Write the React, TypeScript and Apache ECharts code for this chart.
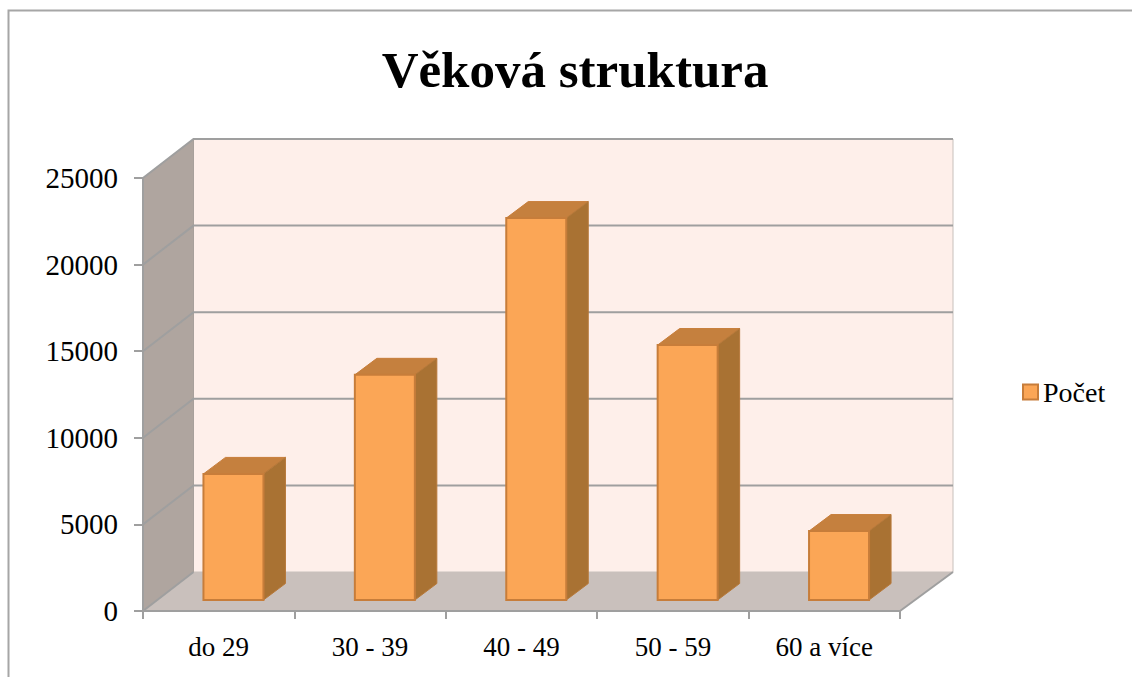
import React, { useEffect, useRef } from "react";
import * as echarts from "echarts";

const title = "Věková struktura";
const seriesName = "Počet";
const categories = ["do 29", "30 - 39", "40 - 49", "50 - 59", "60 a více"];
const values = [7280, 13000, 22050, 14720, 3980];
const gridValues = [5000, 10000, 15000, 20000, 25000];

const FONT = "Liberation Serif";
const GRAY = "#9f9f9f";
const BACK_DX_L = 50.5;
const BACK_DX_R = 53;
const BACK_DY = -39;
const BAR_OFF_X = 14.75;
const BAR_OFF_Y = -11;
const BAR_HALF = 30;
const BAR_DX = 22;
const BAR_DY = -16.5;

export default function App() {
  const ref = useRef<HTMLDivElement>(null);
  useEffect(() => {
    const chart = echarts.init(ref.current!, undefined, { renderer: "svg" });
    chart.setOption({
      animation: false,
      backgroundColor: "#ffffff",
      title: {
        text: title,
        left: 570,
        top: 39,
        textAlign: "center",
        textStyle: { fontFamily: FONT, fontWeight: "bold", fontSize: 51, color: "#000" },
      },
      legend: {
        left: 1022,
        top: 378,
        padding: 0,
        orient: "vertical",
        itemWidth: 15,
        itemHeight: 15,
        itemGap: 0,
        data: [{ name: seriesName, icon: "rect" }],
        textStyle: { fontFamily: FONT, fontSize: 28, color: "#000", padding: [3, 0, 0, 0] },
      },
      grid: { left: 143, top: 178, width: 757, height: 433 },
      xAxis: {
        type: "category",
        data: categories,
        z: 5,
        axisLine: { show: true, lineStyle: { color: GRAY, width: 2 } },
        axisTick: { show: true, length: 8, alignWithLabel: false, lineStyle: { color: GRAY, width: 2 } },
        axisLabel: { fontFamily: FONT, fontSize: 27, color: "#000", margin: 22, interval: 0 },
        splitLine: { show: false },
      },
      yAxis: {
        type: "value",
        min: 0,
        max: 25000,
        interval: 5000,
        z: 5,
        axisLine: { show: true, lineStyle: { color: GRAY, width: 2 } },
        axisTick: { show: true, length: 9, lineStyle: { color: GRAY, width: 2 } },
        axisLabel: { fontFamily: FONT, fontSize: 29, color: "#000", margin: 25, padding: [5, 0, 0, 0], formatter: (v: number) => String(v) },
        splitLine: { show: false },
      },
      series: [
        {
          type: "custom",
          name: "walls",
          z: 1,
          silent: true,
          clip: false,
          data: [[0, 0]],
          renderItem: (params: any) => {
            const { x, y, width, height } = params.coordSys;
            const b = y + height;
            const r = x + width;
            const bl = x + BACK_DX_L;
            const br = r + BACK_DX_R;
            return {
              type: "group",
              children: [
                { type: "polygon", shape: { points: [[bl, y + BACK_DY], [br, y + BACK_DY], [br, b + BACK_DY], [bl, b + BACK_DY]] }, style: { fill: "#feefea", stroke: "#c8c0bc", lineWidth: 1 } },
                { type: "polygon", shape: { points: [[x, y], [bl, y + BACK_DY], [bl, b + BACK_DY], [x, b]] }, style: { fill: "#afa59f" } },
                { type: "polygon", shape: { points: [[x, b], [bl, b + BACK_DY], [br, b + BACK_DY], [r, b]] }, style: { fill: "#c9c0bc" } },
                { type: "line", shape: { x1: r, y1: b, x2: br, y2: b + BACK_DY }, style: { stroke: GRAY, lineWidth: 2 } },
                { type: "line", shape: { x1: x, y1: b, x2: bl, y2: b + BACK_DY }, style: { stroke: GRAY, lineWidth: 2 } },
                { type: "line", shape: { x1: bl, y1: y + BACK_DY, x2: bl, y2: b + BACK_DY }, style: { stroke: "#a8a09b", lineWidth: 1 } },
              ],
            };
          },
        },
        {
          type: "custom",
          name: "gridlines",
          z: 2,
          silent: true,
          clip: false,
          data: gridValues.map((v) => [0, v]),
          encode: { x: 0, y: 1 },
          renderItem: (params: any, api: any) => {
            const { x, width } = params.coordSys;
            const yy = api.coord([0, api.value(1)])[1];
            const bl = x + BACK_DX_L;
            const br = x + width + BACK_DX_R;
            return {
              type: "polyline",
              shape: { points: [[x, yy], [bl, yy + BACK_DY], [br, yy + BACK_DY]] },
              style: { fill: "none", stroke: GRAY, lineWidth: 2 },
            };
          },
        },
        {
          type: "custom",
          name: seriesName,
          z: 3,
          clip: false,
          itemStyle: { color: "#fba656", borderColor: "#c77d3a", borderWidth: 2 },
          data: values.map((v, i) => [i, v]),
          encode: { x: 0, y: 1 },
          renderItem: (_params: any, api: any) => {
            const top = api.coord([api.value(0), api.value(1)]);
            const base = api.coord([api.value(0), 0]);
            const l = top[0] + BAR_OFF_X - BAR_HALF;
            const r = top[0] + BAR_OFF_X + BAR_HALF;
            const t = top[1] + BAR_OFF_Y;
            const b = base[1] + BAR_OFF_Y;
            return {
              type: "group",
              children: [
                { type: "polygon", shape: { points: [[l, t], [l + BAR_DX, t + BAR_DY], [r + BAR_DX, t + BAR_DY], [r, t]] }, style: { fill: "#c5803e", stroke: "#c77d3a", lineWidth: 1 } },
                { type: "polygon", shape: { points: [[r, t], [r + BAR_DX, t + BAR_DY], [r + BAR_DX, b + BAR_DY], [r, b]] }, style: { fill: "#a97233", stroke: "#b7793a", lineWidth: 1 } },
                { type: "rect", shape: { x: l, y: t, width: r - l, height: b - t }, style: { fill: "#fba656", stroke: "#c77d3a", lineWidth: 2 } },
              ],
            };
          },
        },
      ],
      graphic: [
        {
          type: "polyline",
          silent: true,
          shape: { points: [[8.5, 677], [8.5, 10.5], [1132, 10.5]] },
          style: { fill: "none", stroke: "#a6a6a6", lineWidth: 2 },
        },
      ],
    });
    return () => chart.dispose();
  }, []);
  return <div ref={ref} style={{ position: "absolute", left: 0, top: 0, width: 1132, height: 677 }} />;
}
